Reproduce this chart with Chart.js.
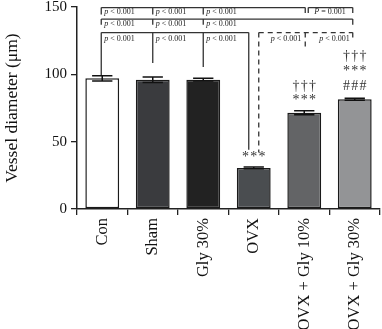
<!DOCTYPE html>
<html>
<head>
<meta charset="utf-8">
<script src="https://cdn.jsdelivr.net/npm/chart.js@4"></script>
<style>
  html, body { margin: 0; padding: 0; background: #fff; overflow: hidden; }
  #wrap { width: 382px; height: 329px; }
</style>
</head>
<body>
<div id="wrap"><canvas id="chart"></canvas></div>
<script>
const groups = ['Con', 'Sham', 'Gly 30%', 'OVX', 'OVX + Gly 10%', 'OVX + Gly 30%'];
const diameter = [97, 96, 96, 30.5, 71.5, 81.5];
const errors = [2, 2, 1, 0.7, 1.5, 0.7];
const barColors = ['#ffffff', '#3a3b3e', '#222222', '#4a4d50', '#636466', '#939496'];
const yTicks = [0, 50, 100, 150];
// significance marks above each bar, top to bottom
const marks = [[], [], [], ['***'], ['\u2020\u2020\u2020', '***'], ['\u2020\u2020\u2020', '***', '###']];
const pText = 'p < 0.001';
const pText2 = 'P = 0.001';

const serif = '"Liberation Serif", "DejaVu Serif", serif';

function pLabel(ctx, txt, x, y, align) {
  const first = txt.charAt(0);
  const rest = txt.slice(1);
  ctx.font = 'italic 8px ' + serif;
  const w1 = ctx.measureText(first).width;
  ctx.font = '8px ' + serif;
  const w2 = ctx.measureText(rest).width;
  const left = align === 'right' ? x - w1 - w2 : x;
  ctx.textAlign = 'left';
  ctx.textBaseline = 'middle';
  ctx.font = 'italic 8px ' + serif;
  ctx.fillText(first, left, y);
  ctx.font = '8px ' + serif;
  ctx.fillText(rest, left + w1, y);
}

const annotations = {
  id: 'annotations',
  afterDatasetsDraw(chart) {
    const ctx = chart.ctx;
    const xs = chart.scales.x;
    const ys = chart.scales.y;
    const cx = i => xs.getPixelForValue(i);
    const py = v => ys.getPixelForValue(v);

    ctx.save();
    // error bars
    ctx.strokeStyle = '#111';
    ctx.lineWidth = 1.5;
    const meta = chart.getDatasetMeta(0);
    meta.data.forEach((bar, i) => {
      const hi = py(diameter[i] + errors[i]);
      const lo = py(diameter[i] - errors[i]);
      const half = bar.width * 0.3;
      ctx.beginPath();
      ctx.moveTo(bar.x, hi); ctx.lineTo(bar.x, lo);
      ctx.moveTo(bar.x - half, hi); ctx.lineTo(bar.x + half, hi);
      ctx.moveTo(bar.x - half, lo); ctx.lineTo(bar.x + half, lo);
      ctx.stroke();
    });

    // brackets
    ctx.strokeStyle = '#333';
    ctx.lineWidth = 1.3;
    const line = (x1, y1, x2, y2) => {
      ctx.beginPath(); ctx.moveTo(x1, y1); ctx.lineTo(x2, y2); ctx.stroke();
    };
    // row 1
    const r1 = py(149.6), r1e = py(144.5);
    line(cx(0) - 1, r1, cx(4) + 1, r1);
    [cx(0) - 1, cx(1), cx(2)].forEach(x => line(x, r1, x, r1e));
    line(cx(4) + 1, r1, cx(4) + 1, py(145.5));
    line(cx(4) + 4, r1, cx(5) - 2, r1);
    line(cx(4) + 4, r1, cx(4) + 4, py(145.5));
    line(cx(5) - 2, r1, cx(5) - 2, py(145.5));
    // row 2
    const r2 = py(141), r2e = py(136.8);
    line(cx(0) - 1, r2, cx(5) - 2, r2);
    [cx(0) - 1, cx(1), cx(2), cx(5) - 2].forEach(x => line(x, r2, x, r2e));
    // row 3 solid
    const r3 = py(131);
    line(cx(0) - 1, r3, cx(3) - 5, r3);
    line(cx(0) - 1, r3, cx(0) - 1, py(99.5));
    line(cx(1), r3, cx(1), py(108.4));
    line(cx(2), r3, cx(2), py(105.5));
    line(cx(3) - 5, r3, cx(3) - 5, py(44));
    // row 3 dashed
    ctx.setLineDash([5, 4]);
    line(cx(3) + 5, r3, cx(5) - 2, r3);
    line(cx(3) + 5, r3, cx(3) + 5, py(42));
    line(cx(4) + 1, r3, cx(4) + 1, py(120));
    line(cx(5) - 2, r3, cx(5) - 2, py(127));
    ctx.setLineDash([]);

    // p labels
    ctx.fillStyle = '#222';
    [0, 1, 2].forEach(i => {
      const x = (i === 0 ? cx(0) - 1 : cx(i)) + 3;
      pLabel(ctx, pText, x, py(146.2), 'left');
      pLabel(ctx, pText, x, py(137.8), 'left');
      pLabel(ctx, pText, x, py(126.5), 'left');
    });
    pLabel(ctx, pText2, cx(4) + 10, py(146.2), 'left');
    pLabel(ctx, pText, cx(4) - 3, py(126.5), 'right');
    pLabel(ctx, pText, cx(5) - 5, py(126.5), 'right');

    // star / dagger / hash marks
    ctx.fillStyle = '#333';
    ctx.font = '14px ' + serif;
    ctx.textAlign = 'center';
    ctx.textBaseline = 'middle';
    const starY = [[], [], [], [38.6], [91, 80.5], [113, 102, 91]];
    marks.forEach((list, i) => {
      list.forEach((m, k) => {
        const txt = m.split('').join('\u200a');
        ctx.fillText(txt, cx(i), py(starY[i][k]));
      });
    });
    ctx.restore();
  }
};

new Chart(document.getElementById('chart'), {
  type: 'bar',
  data: {
    labels: groups,
    datasets: [{
      data: diameter,
      backgroundColor: barColors,
      borderColor: '#1a1a1a',
      borderWidth: 1.5,
      borderSkipped: false,
      barPercentage: 0.67,
      categoryPercentage: 1
    }]
  },
  options: {
    responsive: true,
    maintainAspectRatio: false,
    animation: false,
    layout: { padding: { top: 0, right: 2, left: 0, bottom: 0 } },
    plugins: { legend: { display: false }, tooltip: { enabled: false } },
    scales: {
      x: {
        afterFit: axis => { axis.height = 120; },
        grid: { drawOnChartArea: false, drawTicks: true, tickLength: 6, color: '#222', lineWidth: 1.3 },
        border: { display: true, color: '#222', width: 1.5 },
        ticks: {
          color: '#111',
          font: { family: serif, size: 16.5 },
          minRotation: 90,
          maxRotation: 90,
          autoSkip: false,
          padding: 3
        }
      },
      y: {
        min: 0,
        max: 150,
        afterFit: axis => { axis.width = 77; axis.paddingTop = 7; },
        afterBuildTicks: axis => { axis.ticks = yTicks.map(v => ({ value: v })); },
        grid: { drawOnChartArea: false, drawTicks: true, tickLength: 6, color: '#222', lineWidth: 1.3 },
        border: { display: true, color: '#222', width: 1.5 },
        ticks: { color: '#111', font: { family: serif, size: 15 }, padding: 4 },
        title: {
          display: true,
          text: 'Vessel diameter (\u03bcm)',
          color: '#111',
          font: { family: serif, size: 17.5 },
          padding: { top: 2, bottom: 0 }
        }
      }
    }
  },
  plugins: [annotations]
});
</script>
</body>
</html>
